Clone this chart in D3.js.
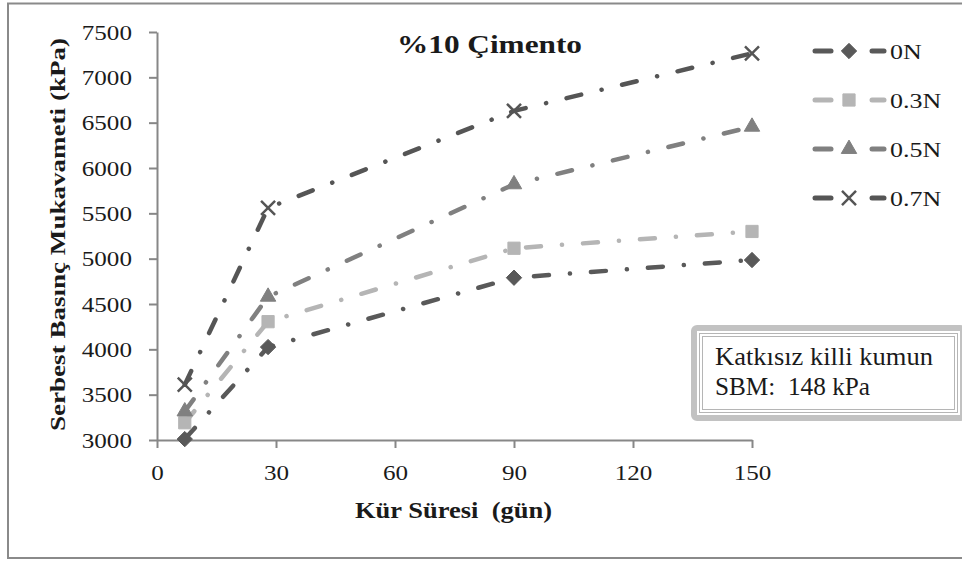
<!DOCTYPE html>
<html>
<head>
<meta charset="utf-8">
<script src="https://cdn.jsdelivr.net/npm/d3@7"></script>
<style>
  body { margin: 0; background: #fff; }
</style>
</head>
<body>
<div id="chart"></div>
<script>
// veriler
const days = [7, 28, 90, 150];
const seriesNames = ["0N", "0.3N", "0.5N", "0.7N"];
const values0N  = [3010, 4025, 4790, 4985];
const values03N = [3190, 4305, 5115, 5300];
const values05N = [3315, 4580, 5820, 6455];
const values07N = [3610, 5560, 6630, 7265];
const xTicks = [0, 30, 60, 90, 120, 150];
const yTicks = [3000, 3500, 4000, 4500, 5000, 5500, 6000, 6500, 7000, 7500];

const width = 962, height = 561;
const FONT = '"Liberation Serif", "Times New Roman", serif';
const colors  = ["#595959", "#b5b5b5", "#808080", "#555555"];
const symbols = [d3.symbolDiamond2, d3.symbolSquare2, d3.symbolTriangle2, d3.symbolX];
const series = [values0N, values03N, values05N, values07N].map((v, i) => ({
    name: seriesNames[i], color: colors[i], symbol: symbols[i],
    points: v.map((y, j) => ({ x: days[j], y: y }))
}));

const svg = d3.select("#chart").append("svg")
    .attr("width", width)
    .attr("height", height);

// dış çerçeve
svg.append("rect")
    .attr("x", 8).attr("y", 3.5)
    .attr("width", 962).attr("height", 554.5)
    .attr("fill", "none").attr("stroke", "#8a8a8a").attr("stroke-width", 2);

const x = d3.scaleLinear().domain([0, 150]).range([157, 752]);
const y = d3.scaleLinear().domain([3000, 7500]).range([440, 32]);

const xAxis = svg.append("g")
    .attr("transform", `translate(0,${y(3000)})`)
    .call(d3.axisBottom(x).tickValues(xTicks).tickFormat(d3.format("d"))
        .tickSize(8).tickPadding(16).tickSizeOuter(0));
const yAxis = svg.append("g")
    .attr("transform", `translate(${x(0)},0)`)
    .call(d3.axisLeft(y).tickValues(yTicks).tickFormat(d3.format("d"))
        .tickSize(8).tickPadding(14).tickSizeOuter(0));

[xAxis, yAxis].forEach(a => {
    a.attr("font-family", null);
    a.select(".domain").attr("stroke", "#878787").attr("stroke-width", 2);
    a.selectAll(".tick line").attr("stroke", "#878787").attr("stroke-width", 2);
    a.selectAll(".tick text")
        .style("font-family", FONT)
        .style("font-size", "22px")
        .attr("fill", "#1a1a1a");
});
yAxis.selectAll(".tick text").attr("transform", "scale(1.14,1)");
xAxis.selectAll(".tick text").attr("transform", "scale(1.14,1)").attr("x", 0);

// seriler
const line = d3.line().x(d => x(d.x)).y(d => y(d.y));

series.forEach(s => {
    svg.append("path")
        .datum(s.points)
        .attr("d", line)
        .attr("fill", "none")
        .attr("stroke", s.color)
        .attr("stroke-width", 4.5)
        .attr("stroke-linecap", "round")
        .attr("stroke-dasharray", "15,21,0.1,21");
});

function drawMarker(g, s, cx, cy) {
    const isX = s.symbol === d3.symbolX;
    const size = s.symbol === d3.symbolSquare2 ? 190 : (s.symbol === d3.symbolTriangle2 ? 170 : (isX ? 130 : 150));
    g.append("path")
        .attr("d", d3.symbol().type(s.symbol).size(size)())
        .attr("transform", `translate(${cx},${cy})`)
        .attr("fill", isX ? "none" : s.color)
        .attr("stroke", s.color)
        .attr("stroke-width", isX ? 2.5 : 1);
}

series.forEach(s => {
    s.points.forEach(p => drawMarker(svg, s, x(p.x), y(p.y)));
});

function addText(g, str, size, bold) {
    return g.append("text")
        .style("font-family", FONT)
        .style("font-size", size + "px")
        .style("font-weight", bold ? "bold" : "normal")
        .attr("fill", "#1a1a1a")
        .text(str);
}

// lejant
const legend = svg.append("g");
series.forEach((s, i) => {
    const ly = 51 + i * 49;
    const row = legend.append("g");
    [[815, 831], [872, 884]].forEach(seg => {
        row.append("line")
            .attr("x1", seg[0]).attr("x2", seg[1])
            .attr("y1", ly).attr("y2", ly)
            .attr("stroke", s.color).attr("stroke-width", 5)
            .attr("stroke-linecap", "round");
    });
    drawMarker(row, s, 849, ly);
    addText(row, s.name, 22, false)
        .attr("transform", `translate(890,${ly + 8}) scale(1.18,1)`);
});

// başlık ve eksen adları
addText(svg, "%10 Çimento", 26, true)
    .attr("x", 397).attr("y", 53)
    .attr("textLength", 185).attr("lengthAdjust", "spacingAndGlyphs");

addText(svg, "Kür Süresi  (gün)", 24, true)
    .attr("x", 355).attr("y", 518)
    .style("white-space", "pre")
    .attr("textLength", 197).attr("lengthAdjust", "spacingAndGlyphs");

addText(svg, "Serbest Basınç Mukavameti (kPa)", 22, true)
    .attr("transform", "translate(65,234.5) rotate(-90)")
    .attr("text-anchor", "middle")
    .attr("textLength", 393).attr("lengthAdjust", "spacingAndGlyphs");

// not kutusu
const note = svg.append("g");
note.append("rect")
    .attr("x", 694).attr("y", 328).attr("width", 269).attr("height", 90).attr("rx", 3)
    .attr("fill", "#fff").attr("stroke", "#c2c2c2").attr("stroke-width", 6);
note.append("rect")
    .attr("x", 699.5).attr("y", 333.5).attr("width", 258).attr("height", 79)
    .attr("fill", "none").attr("stroke", "#b5b5b5").attr("stroke-width", 1);
note.append("rect")
    .attr("x", 702.5).attr("y", 336.5).attr("width", 252).attr("height", 73)
    .attr("fill", "none").attr("stroke", "#b5b5b5").attr("stroke-width", 1);
addText(note, "Katkısız killi kumun", 25, false)
    .attr("x", 715).attr("y", 365)
    .attr("textLength", 218).attr("lengthAdjust", "spacingAndGlyphs");
addText(note, "SBM:  148 kPa", 25, false)
    .attr("x", 715).attr("y", 395)
    .style("white-space", "pre")
    .attr("textLength", 155).attr("lengthAdjust", "spacingAndGlyphs");
</script>
</body>
</html>
